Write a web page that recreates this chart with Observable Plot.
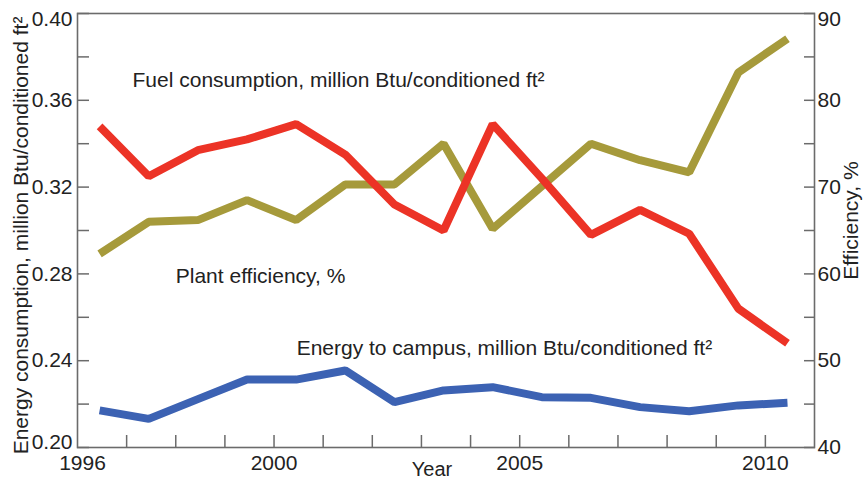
<!DOCTYPE html>
<html><head><meta charset="utf-8">
<script src="https://cdn.jsdelivr.net/npm/d3@7"></script>
<script src="https://cdn.jsdelivr.net/npm/@observablehq/plot@0.6"></script>
<style>body{margin:0;background:#fff;font-family:"Liberation Sans",Arial,sans-serif;}</style>
</head><body><div id="chart"></div>
<script>
// Data
const years = [1996,1997,1998,1999,2000,2001,2002,2003,2004,2005,2006,2007,2008,2009,2010];
const fuel = [0.348,0.325,0.337,0.342,0.349,0.335,0.312,0.300,0.349,0.324,0.298,0.3095,0.2985,0.264,0.248];
const efficiency = [62.3,66.0,66.2,68.5,66.2,70.3,70.3,75.0,65.2,70.1,75.0,73.1,71.7,83.2,87.1];
const energy = [0.2171,0.2132,0.2223,0.2313,0.2313,0.2355,0.2209,0.2263,0.2278,0.2232,0.2229,0.2186,0.2167,0.2194,0.2206];

const leftTickLabels = [0.20,0.24,0.28,0.32,0.36,0.40];
const leftMinorTicks = [0.20,0.22,0.24,0.26,0.28,0.30,0.32,0.34,0.36,0.38,0.40];
const rightTickLabels = [40,50,60,70,80,90];
const rightMinorTicks = [40,45,50,55,60,65,70,75,80,85,90];
const xTickLabels = [1996,2000,2005,2010];
const xMinorTicks = [1997,1998,1999,2000,2001,2002,2003,2004,2005,2006,2007,2008,2009,2010];

const labels = {
  fuel: "Fuel consumption, million Btu/conditioned ft²",
  eff: "Plant efficiency, %",
  energy: "Energy to campus, million Btu/conditioned ft²",
  yLeft: "Energy consumption, million Btu/conditioned ft²",
  yRight: "Efficiency, %",
  x: "Year"
};

const colors = {fuel: "#ec3326", eff: "#a69a3b", energy: "#3c62b3"};

// efficiency (40..90) mapped onto the left scale (0.20..0.40)
const toLeft = v => 0.20 + (v - 40) / 50 * 0.20;
const fromLeft = y => Math.round(40 + (y - 0.20) / 0.20 * 50);

const rows = years.map((yr, i) => ({year: yr, fuel: fuel[i], eff: efficiency[i], energy: energy[i]}));
const X = d => d.year + 0.45;

const axisColor = "#6b6b6b";
const textColor = "#222";
const font = "Liberation Sans, Arial, sans-serif";
const fs = 21;

const leftFirst = leftTickLabels[0];
const leftLast = leftTickLabels[leftTickLabels.length - 1];
const rightLast = rightTickLabels[rightTickLabels.length - 1];
const xFirst = xTickLabels[0];

const chart = Plot.plot({
  width: 864,
  height: 482,
  marginLeft: 77,
  marginRight: 50,
  marginTop: 13,
  marginBottom: 35,
  style: {fontFamily: font, fontSize: fs + "px", color: textColor, background: "#fff"},
  x: {domain: [1996, 2011]},
  y: {domain: [0.20, 0.40]},
  marks: [
    // left axis labels (end labels nudged inward as in the reference)
    Plot.axisY(leftTickLabels.filter(d => d !== leftFirst && d !== leftLast), {anchor: "left", tickSize: 0, tickPadding: 5, tickFormat: d => d.toFixed(2), fontSize: fs, fill: textColor, label: null}),
    Plot.axisY([leftLast], {anchor: "left", tickSize: 0, tickPadding: 5, dy: 6, tickFormat: d => d.toFixed(2), fontSize: fs, fill: textColor, label: null}),
    Plot.axisY([leftFirst], {anchor: "left", tickSize: 0, tickPadding: 5, dy: -5, tickFormat: d => d.toFixed(2), fontSize: fs, fill: textColor, label: null}),
    // left inward ticks
    Plot.axisY(leftMinorTicks, {anchor: "left", tickSize: 12, dx: 12, tickFormat: () => "", stroke: axisColor, strokeWidth: 1.5, label: null}),
    // right axis labels
    Plot.axisY(rightTickLabels.filter(d => d !== rightLast).map(toLeft), {anchor: "right", tickSize: 0, tickPadding: 3, tickFormat: fromLeft, fontSize: fs, fill: textColor, label: null}),
    Plot.axisY([toLeft(rightLast)], {anchor: "right", tickSize: 0, tickPadding: 3, dy: 6, tickFormat: fromLeft, fontSize: fs, fill: textColor, label: null}),
    Plot.axisY(rightMinorTicks.map(toLeft), {anchor: "right", tickSize: 11, dx: -11, tickFormat: () => "", stroke: axisColor, strokeWidth: 1.5, label: null}),
    // x axis
    Plot.axisX(xTickLabels.filter(d => d !== xFirst), {anchor: "bottom", tickSize: 0, tickPadding: 8, tickFormat: d => String(d), fontSize: fs, fill: textColor, label: null}),
    Plot.axisX([xFirst], {anchor: "bottom", tickSize: 0, tickPadding: 8, dx: 5, tickFormat: d => String(d), fontSize: fs, fill: textColor, label: null}),
    Plot.axisX(xMinorTicks, {anchor: "bottom", tickSize: 12, dy: -12, tickFormat: () => "", stroke: axisColor, strokeWidth: 1.5, label: null}),
    Plot.frame({stroke: axisColor, strokeWidth: 1.6}),
    // lines
    Plot.line(rows, {x: X, y: d => toLeft(d.eff), stroke: colors.eff, strokeWidth: 8, strokeLinecap: "butt", strokeLinejoin: "miter"}),
    Plot.line(rows, {x: X, y: "fuel", stroke: colors.fuel, strokeWidth: 8, strokeLinecap: "butt", strokeLinejoin: "miter"}),
    Plot.line(rows, {x: X, y: "energy", stroke: colors.energy, strokeWidth: 8, strokeLinecap: "butt", strokeLinejoin: "miter"}),
    // annotations
    Plot.text([labels.fuel], {x: 1997.12, y: 0.3659, text: d => d, textAnchor: "start", lineAnchor: "bottom", fontSize: fs, fill: textColor}),
    Plot.text([labels.eff], {x: 1998.0, y: 0.2756, text: d => d, textAnchor: "start", lineAnchor: "bottom", fontSize: fs, fill: textColor}),
    Plot.text([labels.energy], {x: 2000.46, y: 0.2424, text: d => d, textAnchor: "start", lineAnchor: "bottom", fontSize: fs, fill: textColor}),
    // axis titles
    Plot.text([labels.yLeft], {frameAnchor: "left", dx: -56, dy: 5, rotate: -90, text: d => d, textAnchor: "middle", lineAnchor: "middle", fontSize: fs, fill: textColor}),
    Plot.text([labels.yRight], {frameAnchor: "right", dx: 37, dy: -10, rotate: -90, text: d => d, textAnchor: "middle", lineAnchor: "middle", fontSize: fs, fill: textColor}),
    Plot.text([labels.x], {frameAnchor: "bottom", dx: -14, dy: 22, text: d => d, textAnchor: "middle", lineAnchor: "middle", fontSize: 20, fill: textColor})
  ]
});
document.getElementById("chart").appendChild(chart);
</script>
</body></html>
